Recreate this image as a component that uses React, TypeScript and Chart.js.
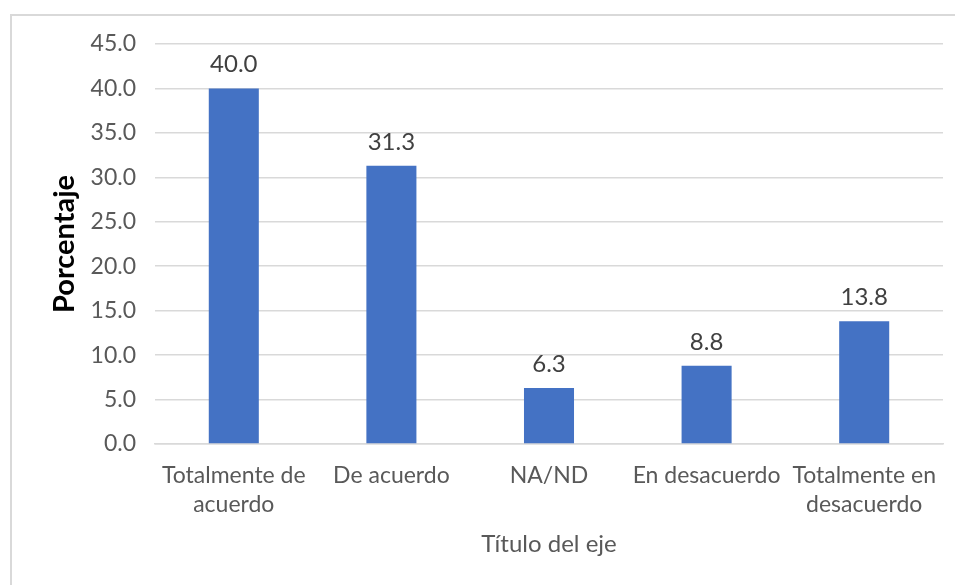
import React, { useEffect, useRef } from "react";
import { Chart, registerables } from "chart.js";

Chart.register(...registerables);

const categories: (string | string[])[] = [
  ["Totalmente de", "acuerdo"],
  "De acuerdo",
  "NA/ND",
  "En desacuerdo",
  ["Totalmente en", "desacuerdo"],
];
const percentages: number[] = [40.0, 31.3, 6.3, 8.8, 13.8];
const yMin = 0;
const yMax = 45;
const yStep = 5;
const yTitle = "Porcentaje";
const xTitle = "Título del eje";

const FONT = "Lato, 'Open Sans', sans-serif";

const dataLabelPlugin = {
  id: "dataLabels",
  afterDatasetsDraw(chart: any) {
    const ctx = chart.ctx;
    const meta = chart.getDatasetMeta(0);
    ctx.save();
    ctx.font = `24px ${FONT}`;
    ctx.fillStyle = "#404040";
    ctx.textAlign = "center";
    ctx.textBaseline = "middle";
    meta.data.forEach((bar: any, i: number) => {
      const v = chart.data.datasets[0].data[i] as number;
      ctx.fillText(v.toFixed(1), bar.x, bar.y - 24);
    });
    ctx.restore();
  },
};

export default function App() {
  const ref = useRef<HTMLCanvasElement | null>(null);
  useEffect(() => {
    if (!ref.current) return;
    const chart = new Chart(ref.current, {
      type: "bar",
      data: {
        labels: categories,
        datasets: [
          {
            data: percentages,
            backgroundColor: "#4472C4",
            borderWidth: 0,
            barPercentage: 0.635,
            categoryPercentage: 0.5,
          },
        ],
      },
      options: {
        responsive: false,
        animation: false,
        layout: { padding: { left: 10, top: 44, right: 12, bottom: 0 } },
        plugins: {
          legend: { display: false },
          tooltip: { enabled: false },
        },
        scales: {
          x: {
            grid: { display: false, drawTicks: false },
            border: { display: true, color: "#d9d9d9", width: 1.5 },
            ticks: {
              color: "#595959",
              font: { family: FONT, size: 23, lineHeight: 1.26 },
              padding: 17,
              maxRotation: 0,
              autoSkip: false,
            },
            title: {
              display: true,
              text: xTitle,
              color: "#595959",
              font: { family: FONT, size: 24 },
              padding: { top: 0, bottom: 26 },
            },
            afterFit: (s: any) => {
              s.height = 141;
            },
          },
          y: {
            min: yMin,
            max: yMax,
            grid: { color: "#d9d9d9", lineWidth: 1.5, drawTicks: false },
            border: { display: false },
            ticks: {
              stepSize: yStep,
              color: "#595959",
              font: { family: FONT, size: 23 },
              padding: 19,
              callback: (v: any) => Number(v).toFixed(1),
            },
            title: {
              display: true,
              text: yTitle,
              color: "#000000",
              font: { family: FONT, size: 29, weight: "bold" },
              padding: { top: 37, bottom: 0 },
            },
            afterFit: (s: any) => {
              s.width = 145;
            },
          },
        },
      },
      plugins: [dataLabelPlugin],
    });
    return () => chart.destroy();
  }, []);

  return (
    <div
      style={{
        position: "fixed",
        left: 0,
        top: 0,
        width: 955,
        height: 585,
        overflow: "hidden",
        background: "#ffffff",
      }}
    >
      <div
        style={{
          position: "absolute",
          left: 10,
          top: 14,
          width: 1000,
          height: 700,
          border: "2px solid #d9d9d9",
          boxSizing: "border-box",
        }}
      />
      <canvas
        ref={ref}
        width={955}
        height={585}
        style={{ position: "absolute", left: 0, top: 0, width: 955, height: 585 }}
      />
    </div>
  );
}
